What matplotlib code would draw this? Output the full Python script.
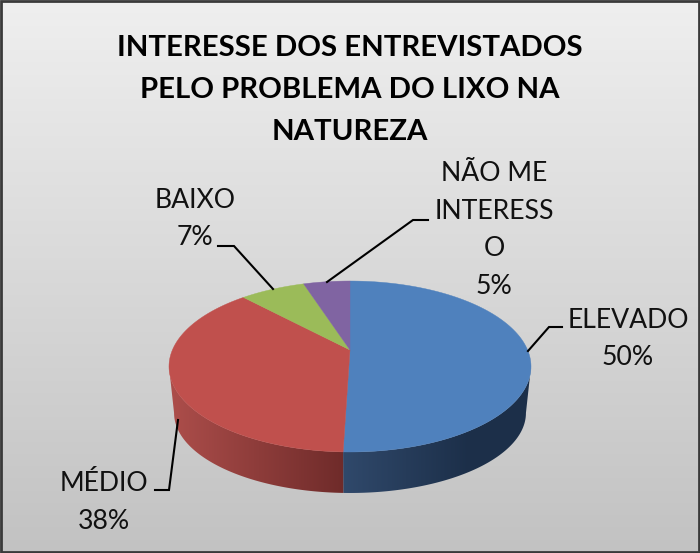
import numpy as np
import matplotlib
matplotlib.use('Agg')
import matplotlib.pyplot as plt
from matplotlib.patches import Polygon, Rectangle

categories = ['ELEVADO', 'MÉDIO', 'BAIXO', 'NÃO ME\nINTERESS\nO']
values = [50.5, 37.5, 7, 5]
top_colors = ['#4f81bd', '#c0504d', '#9bbb59', '#8064a2']
side_colors = [('#30496b', '#1c2f49'), ('#ad4e4b', '#6f2b2a')]
title = 'INTERESSE DOS ENTREVISTADOS\nPELO PROBLEMA DO LIXO NA\nNATUREZA'

plt.rcParams['font.family'] = ['Lato', 'DejaVu Sans']

fig = plt.figure(figsize=(7, 5.53), dpi=100)
ax = fig.add_axes([0, 0, 1, 1])

# the tilted disc, a circle seen in perspective
cx, cy = 350, 350
tilt = 0.193
edge_angle = np.degrees(np.arccos(-tilt))  # where the rim is widest


def rim(a0, a1):
    t = np.radians(np.linspace(a0, a1, 120))
    u, v = np.sin(t), np.cos(t)
    w = 1 + tilt * v
    return cx + 177.6 * u / w, cy - 82.3 * v / w


def lower_rim(x, y):
    # bottom edge of the wall is a bit smaller than the top face
    return cx + (x - cx) * 0.972, 413 + (y - 366.5) * 80 / 85.5


def gradient(c0, c1, x0, x1, y0, y1, vertical=False):
    c0 = np.array(matplotlib.colors.to_rgb(c0))
    c1 = np.array(matplotlib.colors.to_rgb(c1))
    s = np.linspace(0, 1, 256)[:, None]
    img = c0 + (c1 - c0) * s
    img = img[:, None, :] if vertical else img[None, :, :]
    return ax.imshow(img, extent=(x0, x1, y1, y0), aspect='auto', interpolation='bilinear')


gradient('#efefef', '#c2c2c2', 0, 700, 0, 553, vertical=True)

angles = np.cumsum([0] + values) * 3.6

# side walls, only the front of blue and red can be seen
walls = [(edge_angle, angles[1]), (angles[1], 360 - edge_angle)]
for i, (a0, a1) in enumerate(walls):
    x, y = rim(a0, a1)
    bx, by = lower_rim(x, y)
    side = Polygon(np.r_[np.c_[x, y], np.c_[bx, by][::-1]], closed=True, fc='none', ec='none')
    ax.add_patch(side)
    if i == 0:
        im = gradient(side_colors[i][0], side_colors[i][1], x[-1], 470, 360, 500)
        patch = ax.add_patch(Rectangle((470, 360), 70, 140, fc=side_colors[i][1], ec='none', zorder=1))
        patch.set_clip_path(side)
    else:
        im = gradient(side_colors[i][0], side_colors[i][1], x.min(), x[0], 360, 500)
    im.set_clip_path(side)

for i, color in enumerate(top_colors):
    x, y = rim(angles[i], angles[i + 1])
    ax.add_patch(Polygon(np.r_[[[cx, cy]], np.c_[x, y]], closed=True, fc=color, ec=color, lw=0.3, zorder=3))

# leader lines
leaders = [([528, 549, 562], [351, 327, 327]),
           ([178, 169, 155], [420, 490, 490]),
           ([273, 234, 218], [289, 246, 246]),
           ([327, 413, 428], [282, 220, 220])]
for lx, ly in leaders:
    ax.plot(lx, ly, color='black', lw=1.5, solid_joinstyle='miter', zorder=4)

ax.text(350, 90, title, ha='center', va='center', fontsize=21.2, fontweight='bold',
        color='black', linespacing=1.78)

label_pos = [(628, 339), (104, 502.5), (195, 219), (494, 230)]
for name, val, (tx, ty) in zip(categories, values, label_pos):
    ax.text(tx, ty, f'{name}\n{val:.0f}%', ha='center', va='center', fontsize=19.2,
            color='#111111', linespacing=1.62, zorder=5)

ax.add_patch(Rectangle((1, 1), 698, 551, fc='none', ec='#3a3a3a', lw=2, zorder=6))

ax.set_xlim(0, 700)
ax.set_ylim(553, 0)
ax.axis('off')

fig.savefig('out.png', dpi=100)
